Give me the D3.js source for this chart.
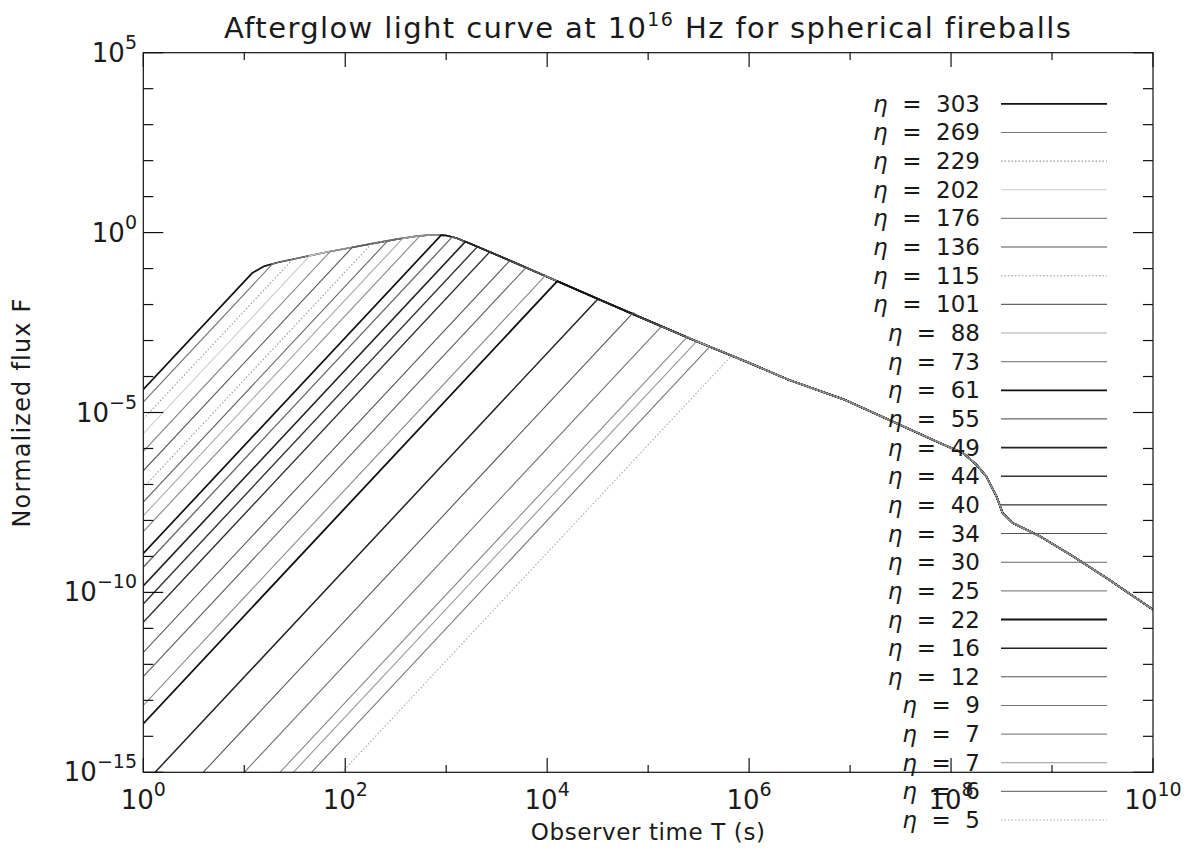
<!DOCTYPE html>
<html><head><meta charset="utf-8">
<script src="https://cdn.jsdelivr.net/npm/d3@7"></script>
<style>
body{margin:0;background:#fff;}
svg text{font-family:"DejaVu Sans","Liberation Sans",sans-serif;fill:#1a1a1a;}
</style></head>
<body><svg id="c" width="1191" height="852"></svg>
<script>
// ---- data ----
const etaLabels = [303,269,229,202,176,136,115,101,88,73,61,55,49,44,40,34,30,25,22,16,12,9,7,7,6,5];
// log10 of flux on the rising branch at T = 1 s
const riseLogF0 = [-4.36,-4.71,-5.18,-5.59,-6.08,-6.62,-7.09,-7.49,-7.87,-8.31,-8.92,-9.30,-9.82,-10.32,-10.83,-11.67,-12.34,-13.14,-13.65,-15.35,-16.78,-18.0,-19.06,-19.46,-20.0,-20.9];
// knee where each rising branch meets the common light curve (log10 T, log10 F)
const kneeLogT = [1.08,1.28,1.48,1.65,1.85,2.07,2.26,2.42,2.57,2.74,2.95,3.06,3.19,3.31,3.43,3.63,3.79,3.98,4.10,4.50,4.85,5.13,5.39,5.48,5.61,5.82];
const kneeLogF = [-1.12,-0.87,-0.74,-0.64,-0.53,-0.41,-0.31,-0.23,-0.16,-0.09,-0.07,-0.12,-0.25,-0.39,-0.54,-0.78,-0.97,-1.20,-1.35,-1.85,-2.23,-2.61,-2.89,-3.02,-3.17,-3.44];
// common (decelerating) light curve, log10 T and log10 F
const envelopeLogT = [1.20,1.33,1.55,1.82,2.05,2.28,2.50,2.71,2.87,3.00,3.10,3.30,3.60,4.09,4.50,4.92,5.46,6.00,6.39,6.95,7.39,7.89,8.12,8.25,8.35,8.45,8.51,8.61,8.88,9.21,9.54,10.0];
const envelopeLogF = [-0.93,-0.83,-0.70,-0.54,-0.42,-0.30,-0.19,-0.10,-0.06,-0.08,-0.15,-0.38,-0.74,-1.34,-1.84,-2.35,-3.00,-3.62,-4.09,-4.65,-5.21,-5.85,-6.13,-6.45,-6.78,-7.33,-7.79,-8.07,-8.44,-9.00,-9.60,-10.48];
const xTickExps = [0,2,4,6,8,10];
const yTickExps = [5,0,-5,-10,-15];
const titleParts = ["Afterglow light curve at 10","16"," Hz for spherical fireballs"];
const xTitle = "Observer time T (s)";
const yTitle = "Normalized flux F";

// ---- styles (one per curve) ----
const styles = [
 {c:"#111",w:1.7},{c:"#777",w:1.1},{c:"#999",w:1.1,d:"1.5,2"},{c:"#ccc",w:1.1},{c:"#888",w:1.1},
 {c:"#555",w:1.1},{c:"#999",w:1.1,d:"1.5,2"},{c:"#666",w:1.1},{c:"#aaa",w:1.1},{c:"#888",w:1.1},
 {c:"#111",w:1.7},{c:"#666",w:1.3},{c:"#222",w:1.6},{c:"#333",w:1.4},{c:"#333",w:1.4},
 {c:"#555",w:1.1},{c:"#666",w:1.1},{c:"#888",w:1.1},{c:"#111",w:1.8},{c:"#222",w:1.5},
 {c:"#555",w:1.1},{c:"#777",w:1.1},{c:"#888",w:1.1},{c:"#999",w:1.1},{c:"#777",w:1.1},{c:"#aaa",w:1.1,d:"1.5,2"}
];

const L=143.3,R=1153,T=52.7,B=772.3;
const svg=d3.select("#c");
const x=d3.scaleLog().domain([1,1e10]).range([L,R]);
const y=d3.scaleLog().domain([1e-15,1e5]).range([B,T]);
const p10=v=>Math.pow(10,v);

svg.append("defs").append("clipPath").attr("id","clip")
  .append("rect").attr("x",L).attr("y",T).attr("width",R-L).attr("height",B-T);

// curves
const envelope = envelopeLogT.map((t,i)=>[t,envelopeLogF[i]]);
const line=d3.line().x(d=>x(p10(d[0]))).y(d=>y(p10(d[1])));
const g=svg.append("g").attr("clip-path","url(#clip)");
etaLabels.forEach((eta,i)=>{
  const pts=[[0,riseLogF0[i]],[kneeLogT[i],kneeLogF[i]]].concat(envelope.filter(e=>e[0]>kneeLogT[i]+0.02));
  const s=styles[i];
  g.append("path").attr("d",line(pts)).attr("fill","none")
   .attr("stroke",s.c).attr("stroke-width",s.w).attr("stroke-dasharray",s.d||null)
   .attr("stroke-linejoin","round");
});

// frame
svg.append("rect").attr("x",L).attr("y",T).attr("width",R-L).attr("height",B-T)
  .attr("fill","none").attr("stroke","#111").attr("stroke-width",1.2);

// ticks
const ax=svg.append("g").attr("stroke","#111").attr("stroke-width",1.2);
d3.range(0,11).forEach(e=>{
  const len = e%2===0?14.4:7.2, xx=x(p10(e));
  ax.append("line").attr("x1",xx).attr("x2",xx).attr("y1",B).attr("y2",B-len);
  ax.append("line").attr("x1",xx).attr("x2",xx).attr("y1",T).attr("y2",T+len);
});
d3.range(-15,6).forEach(e=>{
  const len = e%5===0?20:10, yy=y(p10(e));
  ax.append("line").attr("x1",L).attr("x2",L+len).attr("y1",yy).attr("y2",yy);
  ax.append("line").attr("x1",R).attr("x2",R-len).attr("y1",yy).attr("y2",yy);
});

// tick labels
const fmt=e=>String(e).replace("-","\u2212");
xTickExps.forEach(e=>{
  const t=svg.append("text").attr("x",x(p10(e))).attr("y",B+37).attr("text-anchor","middle").attr("font-size",26);
  t.append("tspan").text("10");
  t.append("tspan").attr("dy",-13).attr("font-size",19).text(fmt(e));
});
yTickExps.forEach(e=>{
  const t=svg.append("text").attr("x",137).attr("y",y(p10(e))+9).attr("text-anchor","end").attr("font-size",26);
  t.append("tspan").text("10");
  t.append("tspan").attr("dy",-13).attr("font-size",19).text(fmt(e));
});

// titles
const tt=svg.append("text").attr("x",(L+R)/2).attr("y",38).attr("text-anchor","middle").attr("font-size",29).attr("letter-spacing",1.4);
tt.append("tspan").text(titleParts[0]);
tt.append("tspan").attr("dy",-12).attr("font-size",19).text(titleParts[1]);
tt.append("tspan").attr("dy",12).text(titleParts[2]);
svg.append("text").attr("x",(L+R)/2).attr("y",840).attr("text-anchor","middle").attr("font-size",23).attr("letter-spacing",0.6).text(xTitle);
svg.append("text").attr("transform",`translate(30,${(T+B)/2}) rotate(-90)`).attr("text-anchor","middle").attr("font-size",24).attr("letter-spacing",1.2).text(yTitle);

// legend
const lg=svg.append("g");
etaLabels.forEach((eta,i)=>{
  const yy=103.8+i*28.65, s=styles[i];
  const t=lg.append("text").attr("x",980).attr("y",yy+8).attr("text-anchor","end").attr("font-size",23).style("white-space","pre");
  t.append("tspan").attr("font-style","italic").text("\u03b7");
  t.append("tspan").text("  =  "+eta);
  lg.append("line").attr("x1",1001).attr("x2",1107).attr("y1",yy).attr("y2",yy)
    .attr("stroke",s.c).attr("stroke-width",s.w).attr("stroke-dasharray",s.d||null);
});
</script></body></html>
